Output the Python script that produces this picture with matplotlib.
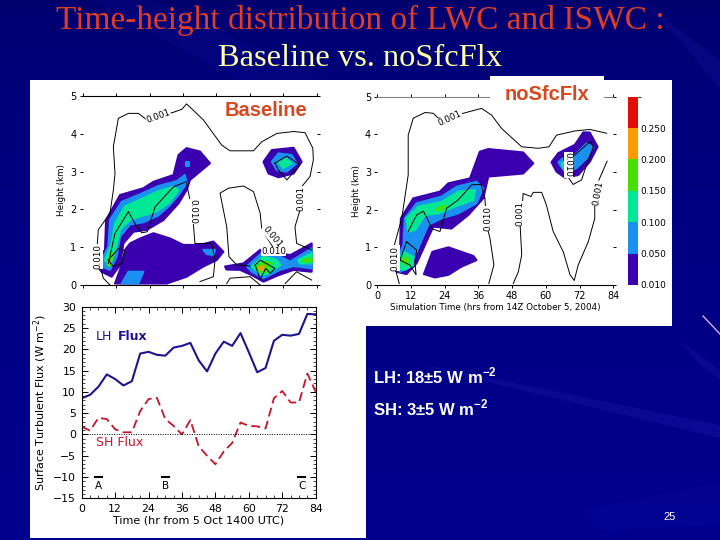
import matplotlib
matplotlib.use('Agg')
import matplotlib.pyplot as plt
import matplotlib.patches as mpatches
import matplotlib.colors as mcolor
import numpy as np

W, H = 720, 540

# flux time series, every 3 hr
flux_time = list(range(0, 87, 3))
lh_flux = [8.5, 9.3, 11.2, 14.1, 13, 11.5, 12.5, 19, 19.4, 18.7, 18.5, 20.4, 20.8, 21.5, 17.4,
           14.8, 19, 21.8, 20.8, 23.8, 19.3, 14.6, 15.6, 22, 23.4, 23.2, 23.6, 28.3, 28.2]
sh_flux = [1.8, 0.9, 3.9, 3.6, 1.2, 0.5, 0.5, 5.5, 8.3, 8.6, 3.6, 2, 0, 3.4, -2.8,
           -5, -7, -4, -2, 2.8, 2, 1.9, 1.4, 8.5, 10.2, 7.5, 7.5, 14.3, 10]
period_names = ['A', 'B', 'C']
period_time = [6, 30, 79]

# colour bar
cbar_levels = [0.01, 0.05, 0.10, 0.15, 0.20, 0.25, 0.30]
cbar_labels = ['0.010', '0.050', '0.100', '0.150', '0.200', '0.250']
cbar_colors = ['#3a00b0', '#1a90f0', '#00e896', '#44e000', '#ff9a00', '#e01000']

# filled regions of the Baseline panel: (level index, times, heights)
base_fill = [
    (0, [4.4, 8, 8.4, 13.4, 21.8, 25.4, 32.6, 34.4, 37.3, 42.1, 45.7, 42.1, 38.5, 37.3, 34.4, 29, 23, 18.2, 14.6, 13.4, 10.4, 6.8],
     [.57, .93, 1.72, 2.38, 2.56, 2.73, 2.91, 3.44, 3.62, 3.53, 3.22, 3.0, 2.78, 2.51, 2.16, 1.72, 1.46, 1.41, 1.1, .53, .22, .35]),
    (1, [6.8, 9.2, 9.8, 14, 21.2, 27.2, 33.8, 36.7, 37.3, 34.4, 31.4, 27.2, 21.8, 17, 13.4, 12.2, 9.8, 6.8],
     [.66, 1.01, 1.72, 2.2, 2.42, 2.62, 2.75, 2.91, 2.69, 2.38, 2.12, 1.84, 1.66, 1.6, 1.28, .75, .4, .49]),
    (2, [8, 10.4, 11.6, 15.2, 21.2, 27.2, 32.6, 34.4, 31.4, 26.6, 21.8, 17, 13.4, 11.6, 9.8],
     [.66, 1.1, 1.63, 2.08, 2.28, 2.48, 2.6, 2.51, 2.2, 1.95, 1.84, 1.72, 1.46, .93, .53]),
    (3, [8.9, 10.5, 11, 9.5], [.55, .85, .8, .5]),
    (1, [37.2, 38.2, 38.2, 37.2], [3.15, 3.15, 3.25, 3.25]),
    (0, [11.6, 13.4, 15.2, 17, 20.6, 25.4, 31.4, 36.1, 42.1, 46.9, 50.5, 48.1, 43.3, 37.3, 30.2],
     [.04, .4, .93, 1.1, 1.23, 1.37, 1.23, 1.06, 1.06, 1.15, .88, .66, .49, .22, .04]),
    (1, [14, 16.4, 21.8, 20], [.04, .35, .35, .04]),
    (1, [43.3, 47.5, 46.9, 44.5], [.93, .93, .79, .82]),
    (0, [64.9, 67.9, 75.7, 78.6, 75.7, 70.3, 66.7], [3.26, 3.57, 3.63, 3.26, 2.95, 2.85, 2.95]),
    (1, [67.9, 70.3, 75, 76.8, 73.3, 69.7], [3.26, 3.48, 3.44, 3.22, 3.0, 3.04]),
    (2, [70.3, 72.7, 75, 72], [3.24, 3.35, 3.22, 3.09]),
    (0, [51.1, 57.7, 63.7, 74.5, 82.2, 82.2, 75.7, 70.3, 64.9, 60.7, 56.5, 51.6],
     [.49, .57, .93, .79, 1.1, .35, .4, .26, .09, .26, .4, .41]),
    (1, [58.9, 64.2, 70.9, 74.5, 82.2, 82.2, 75.7, 70.9, 64.9, 60.7], [.49, .84, .75, .62, .97, .44, .5, .4, .18, .35]),
    (2, [60.7, 64.9, 69.7, 70.9, 66.7, 64.3], [.49, .75, .66, .53, .31, .26]),
    (2, [77.4, 82.2, 82.2, 78], [.66, .84, .57, .57]),
    (3, [62.5, 64.9, 67.9, 66.1, 63.7], [.49, .62, .57, .35, .35]),
    (3, [79.2, 82.2, 82.2, 79.2], [.66, .71, .62, .62]),
    (4, [63.4, 64.9, 64.6, 63.7], [.47, .5, .4, .4]),
]

# filled regions of the noSfcFlx panel
nosfc_fill = [
    (0, [5.1, 8.1, 8.4, 12.8, 22.3, 25.3, 33, 36.5, 39.5, 51.9, 55.5, 51.9, 39.5, 37.7, 32.4, 26.4, 19.9, 16.4, 14, 10.4, 6.9],
     [.58, .97, 1.77, 2.3, 2.48, 2.7, 2.83, 3.54, 3.61, 3.52, 3.23, 2.96, 2.88, 2.3, 1.86, 1.5, 1.55, .97, .58, .29, .35]),
    (1, [6.3, 9.3, 9.8, 14, 22.9, 28.2, 35.3, 37.7, 35.3, 28.8, 22.9, 18.1, 14, 11.6, 8.1],
     [.58, 1.06, 1.77, 2.17, 2.35, 2.61, 2.74, 2.57, 2.17, 1.9, 1.77, 1.59, .88, .49, .35]),
    (2, [10.4, 14.6, 22.9, 28.8, 34.7, 34.2, 27.6, 21.7, 17, 13.4, 11],
     [1.77, 2.08, 2.21, 2.48, 2.52, 2.26, 2.08, 1.9, 1.86, 1.46, 1.42]),
    (2, [6.9, 9.3, 12.8, 12.8, 9.8, 7.5], [.58, .88, .75, .53, .4, .44]),
    (3, [8.9, 10.4, 11.3, 9.6], [.66, .75, .62, .53]),
    (3, [21, 24, 23, 21.5], [2.02, 2.12, 2.0, 1.98]),
    (0, [16.6, 19.6, 25.3, 34.2, 35.3, 30, 25.3, 20.5], [.29, .88, 1, .77, .66, .49, .27, .2]),
    (0, [62, 64.4, 70.3, 73.3, 75.6, 78.4, 75.6, 71.5, 66.8, 63.8], [3.26, 3.5, 3.72, 4.05, 4.05, 3.67, 3.27, 2.92, 2.85, 3.01]),
    (1, [64.4, 67.4, 70.3, 74.5, 76.9, 74.5, 70.9, 66.8], [3.26, 3.45, 3.45, 3.76, 3.67, 3.36, 3.1, 3.0]),
    (2, [65.6, 68, 69.7, 68, 66.2], [3.23, 3.36, 3.23, 3.1, 3.1]),
]

# contour lines
base_lines = [
    ([9.8, 7.4, 5, 5.6, 9.8, 11, 11.6, 11, 12.8, 16.4, 20, 23, 32.6, 35.6, 37.3, 43.3, 49.9, 52.9, 61.3, 64.3, 69.7, 75.7, 79.8, 82.6, 82.8, 81.6, 78.6, 78, 76.2, 76.8, 82.2],
     [0, .18, .84, 1.46, 1.9, 2.51, 2.95, 3.66, 4.41, 4.54, 4.54, 4.37, 4.57, 4.65, 4.79, 4.37, 3.7, 3.55, 3.55, 3.79, 4.01, 4.06, 4.03, 3.62, 3.31, 2.87, 2.6, 1.98, 1.54, 1.1, .93]),
    ([37.3, 38.5, 39.7, 40.3, 46.3, 47.5, 46.9, 42.1], [2.69, 2.25, 1.63, 1.1, 1.1, .66, .22, .09]),
    ([60.1, 55.3, 52.5, 51.7, 49.3, 52.3, 57.7, 61.3, 63.7, 64.3, 69.7], [.5, .53, .75, 1.54, 2.43, 2.56, 2.62, 2.47, 1.9, 1.46, .84]),
    ([51.7, 52.9, 60.1, 63.7], [.04, .18, .22, 0]),
    ([9.2, 11.6, 16.4, 19.4, 21.2, 23.2, 26, 32.6, 37.1], [.57, 1.37, 1.94, 1.54, 1.38, 1.41, 2.07, 2.6, 2.73]),
    ([9.2, 13.4, 15.2, 14, 11, 9.2], [.66, 1.01, .88, .57, .49, .66]),
    ([69, 73.3, 78, 73.3, 70.3, 69], [3.22, 3.41, 3.18, 2.78, 3.04, 3.22]),
    ([61.9, 63.7, 69, 67.3, 65.7, 63.7, 61.9], [.53, .66, .44, .31, .44, .15, .53]),
    ([72.7, 76.8, 82.2], [.04, .35, .13]),
]
nosfc_lines = [
    ([7.8, 5.1, 8.7, 11, 11, 12.8, 17, 19.9, 21.7, 30.6, 37.1, 40.7, 44.2, 51.4, 57.3, 61.1, 63.8, 70.3, 75.7, 81.6],
     [.04, .8, 1.77, 2.92, 3.98, 4.43, 4.58, 4.56, 4.43, 4.56, 4.69, 4.51, 4.16, 3.67, 3.63, 3.67, 3.98, 4.09, 4.13, 4.03]),
    ([81.8, 78.6, 77.4, 77.4, 75.1, 71.5, 70.1, 68.6, 66.2, 62.6, 60.2, 58.5, 55.5, 54.7, 51.9, 51.4, 50.8, 51.4, 50.2, 48.4],
     [3.29, 2.74, 2.12, 1.77, 1.15, .53, .12, .27, .88, 1.42, 2.12, 2.46, 2.46, 2.35, 2.43, 1.86, 1.64, .8, .35, .04]),
    ([38.3, 38.9, 40.1, 41.5, 39.7], [2.3, 1.59, 1.24, .53, .04]),
    ([11, 14, 16.4, 19.6, 22.3, 24.7, 28.8, 33.6, 36.9, 38.3], [1.42, 1.86, 1.96, 1.49, 1.42, 2.04, 2.26, 2.66, 2.67, 2.3]),
    ([10.4, 14, 13.4, 13.8, 11.6, 8.1, 10.4], [1.15, .93, .62, .27, .53, .66, 1.15]),
    ([66.2, 70.3, 75.7, 76.9, 74.5, 72.7, 69.7, 67.4, 66.2], [3.45, 3.45, 3.81, 3.67, 3.19, 2.79, 2.67, 2.92, 3.45]),
]

# contour labels: text, time, height, rotation
base_labels = [('0.001', 27.2, 4.45, 20), ('0.010', 39.7, 1.94, 270), ('0.001', 78.4, 2.29, 90),
               ('0.001', 67.9, 1.28, -50), ('0.010', 68.5, .88, 0), ('0.010', 5.6, .75, 90)]
nosfc_labels = [('0.001', 25.9, 4.43, 25), ('0.010', 39.5, 1.77, 90), ('0.001', 50.8, 1.9, 90),
                ('0.001', 78.6, 2.43, 80), ('0.010', 68, 3.19, 270), ('0.010', 6.3, .71, 90)]


def px_axes(fig, left, top, right, bottom, **kw):
    return fig.add_axes([left/W, 1-bottom/H, (right-left)/W, (bottom-top)/H], **kw)


def draw_section(ax, fills, lines, labels):
    for lev, t, h in fills:
        ax.fill(t, h, color=cbar_colors[lev], lw=1.5, joinstyle='round', zorder=lev+1)
    for t, h in lines:
        ax.plot(t, h, color='black', lw=0.7, zorder=8)
    for txt, t, h, rot in labels:
        ax.text(t, h, txt, fontsize=6.3, rotation=rot, ha='center', va='center', zorder=9,
                rotation_mode='anchor', bbox=dict(fc='white', ec='none', pad=0.2))
    ax.set_xlim(0, 84)
    ax.set_ylim(0, 5)
    ax.set_xticks(range(0, 96, 12))
    ax.set_yticks(range(0, 6))
    ax.tick_params(direction='out', length=2.5, width=0.7, labelsize=7, pad=2,
                   top=True, right=True)
    ax.set_ylabel('Height (km)', fontsize=6.3, labelpad=3)
    ax.spines['left'].set_visible(False)
    ax.spines['right'].set_visible(False)


plt.rcParams['mathtext.fontset'] = 'custom'
plt.rcParams['mathtext.rm'] = 'DejaVu Sans'
plt.rcParams['mathtext.bf'] = 'Liberation Sans:bold'

fig = plt.figure(figsize=(W/100, H/100), dpi=100)

# slide background
bg = fig.add_axes([0, 0, 1, 1])
bg.set_xlim(0, W)
bg.set_ylim(H, 0)
bg.axis('off')
yy, xx = np.mgrid[0:H, 0:W]
shade = np.clip(0.45 + 0.55*(yy/H)**0.5, 0, 1)
bg_cmap = mcolor.LinearSegmentedColormap.from_list('slide', ['#000050', '#00008e'])
bg.imshow(shade, cmap=bg_cmap, vmin=0, vmax=1, extent=(0, W, H, 0), aspect='auto')
# soft streaks of the slide template
bg.add_patch(mpatches.Polygon([(410, 362), (720, 425), (720, 438), (500, 385)], fc='#2020b0', ec='none', alpha=0.3))
bg.add_patch(mpatches.Polygon([(580, 510), (720, 482), (720, 525), (600, 530)], fc='#1818a8', ec='none', alpha=0.15))
bg.add_patch(mpatches.Polygon([(680, 340), (720, 370), (720, 380), (700, 365)], fc='#2020b0', ec='none', alpha=0.25))
bg.add_patch(mpatches.Polygon([(640, 0), (720, 60), (720, 90), (680, 40)], fc='#2020b0', ec='none', alpha=0.2))
bg.add_patch(mpatches.Polygon([(150, 0), (330, 80), (240, 80), (90, 0)], fc='#1818a8', ec='none', alpha=0.15))
bg.plot([703, 720], [316, 334], color='#d8a8e8', lw=1)
bg.add_patch(mpatches.Rectangle((30, 80), 336, 458, fc='white', ec='none'))
bg.add_patch(mpatches.Rectangle((365, 80), 307, 246, fc='white', ec='none'))

serif = ['Liberation Serif']
bg.text(360, 20, 'Time-height distribution of LWC and ISWC :', color='#dc3c28', fontsize=24,
        family=serif, ha='center', va='center')
bg.text(360, 58, 'Baseline vs. noSfcFlx', color='#ffffa8', fontsize=23.4,
        family=serif, ha='center', va='center')

# baseline panel
ax1 = px_axes(fig, 82.7, 96, 316.7, 285)
draw_section(ax1, base_fill, base_lines, base_labels)
ax1.set_xticklabels([])

# noSfcFlx panel
ax2 = px_axes(fig, 377.3, 96.7, 613.3, 285)
draw_section(ax2, nosfc_fill, nosfc_lines, nosfc_labels)
ax2.spines['top'].set_color('#808080')
ax2.set_xlabel('Simulation Time (hrs from 14Z October 5, 2004)', fontsize=6.3, labelpad=1)

# label boxes sit on top of the panel frames
top = fig.add_axes([0, 0, 1, 1], zorder=5)
top.set_xlim(0, W)
top.set_ylim(H, 0)
top.axis('off')
top.text(266, 110, 'Baseline', color='#d8481f', fontsize=14.5, fontweight='bold',
         family=['Liberation Sans'], ha='center', va='center')
top.add_patch(mpatches.Rectangle((490, 76), 114, 24, fc='white', ec='none'))
top.text(547, 94, 'noSfcFlx', color='#d8481f', fontsize=14.5, fontweight='bold',
         family=['Liberation Sans'], ha='center', va='center')

# colour bar
cax = px_axes(fig, 628.3, 96.7, 637.7, 285)
cmap = mcolor.ListedColormap(cbar_colors)
norm = mcolor.BoundaryNorm(cbar_levels, cmap.N)
cb = fig.colorbar(plt.cm.ScalarMappable(norm=norm, cmap=cmap), cax=cax, spacing='uniform', ticks=cbar_levels[:-1])
cb.ax.set_yticklabels(cbar_labels)
cb.ax.tick_params(length=0, labelsize=6.5, pad=2)
cb.outline.set_visible(False)

# flux panel
ax3 = px_axes(fig, 81.7, 306.7, 315.7, 498.3)
ax3.plot(flux_time, lh_flux, color='#1c1490', lw=1.5)
ax3.plot(flux_time, sh_flux, color='#c81428', lw=1.3, dashes=(5, 2.5))
ax3.axhline(0, color='black', lw=0.7, ls=(0, (1, 1.5)))
ax3.set_xlim(0, 84)
ax3.set_ylim(-15, 30)
ax3.set_xticks(range(0, 96, 12))
ax3.set_xticks(range(0, 87, 3), minor=True)
ax3.set_yticks(range(-15, 35, 5))
ax3.set_yticks(range(-15, 31, 1), minor=True)
ax3.tick_params(which='major', direction='in', length=4, width=0.7, labelsize=7.8, pad=4, top=True, right=True)
ax3.tick_params(which='minor', direction='in', length=2, width=0.5, top=True, right=True)
ax3.set_xlabel('Time (hr from 5 Oct 1400 UTC)', fontsize=8, labelpad=1)
ax3.set_ylabel('Surface Turbulent Flux (W m$^{-2}$)', fontsize=8, labelpad=3)
ax3.text(5, 23, 'LH', color='#1c1490', fontsize=9, va='center')
ax3.text(13, 23, 'Flux', color='#1c1490', fontsize=9, va='center', fontweight='bold')
ax3.text(5, -2, 'SH Flux', color='#c81428', fontsize=9, va='center')
for name, t in zip(period_names, period_time):
    ax3.plot([t-1.2, t+1.2], [-10, -10], color='black', lw=1.5)
    ax3.text(t, -12.2, name, fontsize=7.5, ha='center', va='center')

# notes
sans = ['Liberation Sans']
top.text(373, 376, 'LH: 18±5 W m$^{\\mathbf{-2}}$', color='white', fontsize=12, fontweight='bold', family=sans, va='center')
top.text(373, 408, 'SH: 3±5 W m$^{\\mathbf{-2}}$', color='white', fontsize=12, fontweight='bold', family=sans, va='center')
top.text(670, 517, '25', color='white', fontsize=8, family=sans, ha='center', va='center')

fig.savefig('out.png', dpi=100)
